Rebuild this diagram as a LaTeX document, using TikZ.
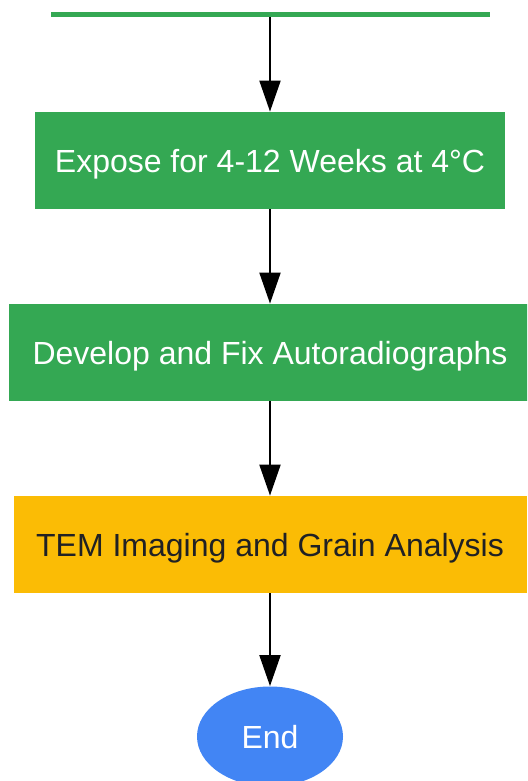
\documentclass[tikz,border=0pt]{standalone}
\usepackage{fontspec}
\setmainfont{Liberation Sans}
\usetikzlibrary{shapes.geometric,arrows.meta}
\definecolor{stepgreen}{HTML}{34A853}
\definecolor{stepyellow}{HTML}{FBBC05}
\definecolor{endblue}{HTML}{4285F4}
\definecolor{darktext}{HTML}{202124}

\begin{document}
\begin{tikzpicture}[x=0.5pt, y=-0.5pt,
    flowarrow/.style={-{Triangle[length=15.5pt,width=10.5pt]}, line width=1pt, black},
    stepbox/.style={shape=rectangle, inner sep=0pt, minimum height=48.5pt,
        text height=11.5pt, text depth=0pt,
        font=\fontsize{16pt}{19pt}\selectfont}]
            \useasboundingbox (0,0) rectangle (527,781);
            \clip (0,0) rectangle (527,781);
            \node[shape=rectangle, fill=stepgreen, inner sep=0pt, minimum width=219.5pt, minimum height=2.5pt] (Prepare) at (270,14.5) {};
            \begin{scope} [node distance=96pt]
                \node[stepbox, fill=stepgreen, text=white, minimum width=235pt] (Expose) at (270,160.5) {Expose for 4-12 Weeks at 4°C};
                \node[stepbox, fill=stepgreen, text=white, minimum width=261pt] (Develop) [below of=Expose] {Develop and Fix Autoradiographs};
                \node[stepbox, fill=stepyellow, text=darktext, minimum width=256.5pt] (TEM) [below of=Develop] {TEM Imaging and Grain Analysis};
                \node[shape=ellipse, fill=endblue, text=white, inner sep=0pt,
                    minimum width=73pt, minimum height=50pt,
                    text height=11.5pt, text depth=0pt,
                    font=\fontsize{16pt}{19pt}\selectfont] (End) [below of=TEM] {End};
            \end{scope}
            \draw[flowarrow] (Prepare) -- (Expose);
            \draw[flowarrow] (Expose) -- (Develop);
            \draw[flowarrow] (Develop) -- (TEM);
            \draw[flowarrow] (TEM) -- (End);
        \end{tikzpicture}
\end{document}
